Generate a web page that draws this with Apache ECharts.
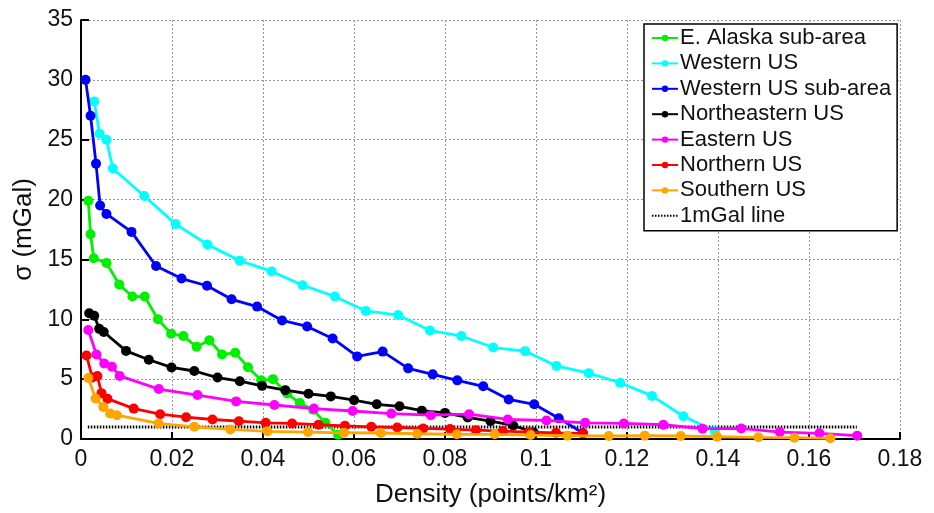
<!DOCTYPE html>
<html>
<head>
<meta charset="utf-8">
<script src="https://cdn.jsdelivr.net/npm/echarts@6/dist/echarts.min.js"></script>
<style>html,body{margin:0;padding:0;background:#fff}#c{width:934px;height:513px}</style>
</head>
<body>
<div id="c"></div>
<script>
const seriesNames = ["E. Alaska sub-area","Western US","Western US sub-area","Northeastern US","Eastern US","Northern US","Southern US","1mGal line"];
const xTicks = [0,0.02,0.04,0.06,0.08,0.1,0.12,0.14,0.16,0.18];
const yTicks = [0,5,10,15,20,25,30,35];

const alaskaX = [0.0016,0.0021,0.0028,0.0056,0.0084,0.0113,0.014,0.0169,0.0198,0.0225,0.0254,0.0282,0.031,0.0339,0.0367,0.0396,0.0422,0.0453,0.0481,0.051,0.0537,0.0565];
const alaskaY = [19.9,17.1,15.1,14.7,12.9,11.9,11.9,10.0,8.8,8.6,7.7,8.25,7.06,7.2,6.0,4.9,5.0,3.8,3.0,2.45,1.35,0.35];

const westX = [0.0029,0.0041,0.0056,0.007,0.0139,0.0208,0.0278,0.0349,0.0419,0.0487,0.0558,0.0626,0.0697,0.0767,0.0836,0.0906,0.0976,0.1045,0.1116,0.1185,0.1255,0.1324,0.1393];
const westY = [28.2,25.5,25.0,22.6,20.3,17.95,16.25,14.9,14.0,12.85,11.9,10.7,10.35,9.07,8.6,7.64,7.34,6.1,5.5,4.7,3.6,1.9,0.66];

const westSubX = [0.001,0.0021,0.0033,0.0042,0.0056,0.0111,0.0165,0.0221,0.0277,0.0331,0.0387,0.0442,0.0497,0.0553,0.0607,0.0663,0.0719,0.0773,0.0827,0.0884,0.094,0.0996,0.105,0.1103];
const westSubY = [30.0,27.0,23.0,19.5,18.8,17.3,14.45,13.4,12.8,11.67,11.06,9.9,9.4,8.4,6.9,7.3,5.9,5.4,4.9,4.4,3.3,2.9,1.74,0.5];

const neX = [0.0018,0.0029,0.004,0.005,0.0099,0.0149,0.0199,0.0249,0.03,0.0349,0.0398,0.0449,0.05,0.0549,0.06,0.065,0.07,0.0749,0.08,0.085,0.09,0.095,0.0995];
const neY = [10.5,10.3,9.2,8.94,7.36,6.62,5.98,5.68,5.13,4.83,4.44,4.08,3.78,3.56,3.25,2.9,2.73,2.37,2.18,1.8,1.49,1.13,0.55];

const eastX = [0.0016,0.0034,0.0051,0.0068,0.0085,0.0171,0.0256,0.0341,0.0425,0.0512,0.0597,0.0682,0.0769,0.0853,0.0938,0.1023,0.1108,0.1193,0.128,0.1366,0.1451,0.1536,0.1623,0.1706];
const eastY = [9.1,7.06,6.3,6.04,5.27,4.17,3.67,3.14,2.84,2.54,2.34,2.12,1.99,2.07,1.63,1.55,1.35,1.3,1.19,0.86,0.88,0.58,0.47,0.28];

const northX = [0.0012,0.0025,0.0036,0.0045,0.0058,0.0116,0.0174,0.0231,0.0289,0.0347,0.0406,0.0464,0.0522,0.058,0.0638,0.0695,0.0752,0.0811,0.0868,0.0927,0.0985,0.1044,0.1103];
const northY = [6.98,5.13,5.27,3.83,3.37,2.54,2.07,1.82,1.63,1.49,1.35,1.3,1.19,1.1,1.02,0.96,0.88,0.83,0.74,0.66,0.58,0.52,0.47];

const southX = [0.0016,0.0032,0.0049,0.0064,0.0079,0.017,0.0249,0.0328,0.041,0.0499,0.0578,0.0659,0.0739,0.0826,0.0909,0.0988,0.1069,0.116,0.1239,0.1318,0.1398,0.1489,0.1568,0.1647];
const southY = [5.1,3.39,2.68,2.13,1.99,1.3,1.02,0.8,0.64,0.58,0.52,0.5,0.44,0.39,0.39,0.33,0.28,0.25,0.28,0.25,0.19,0.14,0.11,0.06];

const refLineX = [0.0015,0.1705];
const refLineY = [1,1];

const colors = ['#00f000','#00ffff','#0000ff','#000000','#ff00ff','#ff0000','#ffa500','#000000'];
const xs = [alaskaX,westX,westSubX,neX,eastX,northX,southX,refLineX];
const ys = [alaskaY,westY,westSubY,neY,eastY,northY,southY,refLineY];

const FONT = '"Liberation Sans", Arial, sans-serif';
const series = seriesNames.map((name,i)=>{
  const data = xs[i].map((x,j)=>[x,ys[i][j]]);
  const isRef = i===7;
  return {
    name, type:'line', data,
    symbol: isRef ? 'none' : 'circle',
    symbolSize: 10,
    color: colors[i],
    lineStyle: isRef ? {color:'#000', width:3, type:[1.5,1.5]} : {color:colors[i], width:2.8},
    itemStyle: {color: colors[i]},
    z: isRef ? 1 : 2+i,
    animation:false
  };
});

const legendData = seriesNames.map((n,i)=> i===7
  ? {name:n, itemStyle:{color:'rgba(0,0,0,0)', borderWidth:0, opacity:0}}
  : {name:n});

const chart = echarts.init(document.getElementById('c'), null, {renderer:'canvas'});
chart.setOption({
  animation:false,
  backgroundColor:'#fff',
  textStyle:{fontFamily:FONT},
  grid:{left:81,right:34,top:20,bottom:70,containLabel:false},
  legend:{
    orient:'vertical', left:644, top:24,
    padding:[3,6,4,7],
    itemWidth:26, itemHeight:8, itemGap:3.4,
    borderColor:'#000', borderWidth:1.5, backgroundColor:'#fff',
    textStyle:{fontSize:22, color:'#111', fontFamily:FONT, lineHeight:22, padding:[0,0,0,-3]},
    data: legendData
  },
  xAxis:{
    type:'value', min:xTicks[0], max:xTicks[xTicks.length-1], interval:0.02,
    name:'Density (points/km²)', nameLocation:'middle', nameGap:43,
    nameTextStyle:{fontSize:26, color:'#111', fontFamily:FONT},
    axisLine:{show:true, onZero:false, lineStyle:{color:'#000', width:2}},
    axisTick:{show:true, inside:true, length:7, lineStyle:{color:'#000', width:2}},
    axisLabel:{fontSize:23, color:'#111', margin:9, fontFamily:FONT,
      formatter:v=>v===0?'0':String(+v.toFixed(2))},
    splitLine:{show:true, lineStyle:{color:'#999', width:1, type:[2,2]}}
  },
  yAxis:{
    type:'value', min:yTicks[0], max:yTicks[yTicks.length-1], interval:5,
    name:'σ (mGal)', nameLocation:'middle', nameGap:29, nameRotate:90,
    nameTextStyle:{fontSize:26, color:'#111', fontFamily:FONT},
    axisLine:{show:true, onZero:false, lineStyle:{color:'#000', width:2}},
    axisTick:{show:true, inside:true, length:8, lineStyle:{color:'#000', width:2}},
    axisLabel:{fontSize:23, color:'#111', margin:8, fontFamily:FONT},
    splitLine:{show:true, lineStyle:{color:'#999', width:1, type:[2,2]}}
  },
  series
});
</script>
</body>
</html>
